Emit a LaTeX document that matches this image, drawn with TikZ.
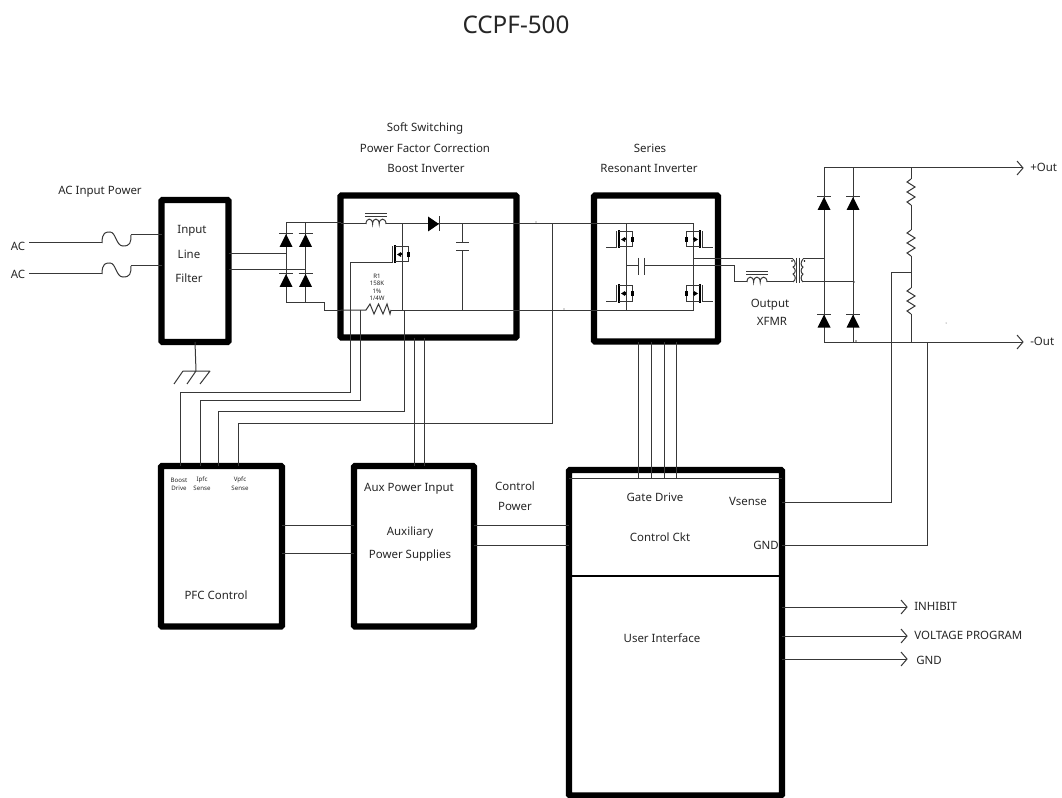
\documentclass[tikz,border=0pt]{standalone}
\usepackage{fontspec}
\setmainfont{Noto Sans}
\usetikzlibrary{fit}
\tikzset{
  wire/.style={line width=0.75pt,draw=black!78,line cap=butt,line join=miter},
  blockbox/.style={draw=black,line width=4.8pt,rounded corners=0.8pt,inner sep=0pt,outer sep=0pt,fill=none},
  lbl/.style={inner sep=0pt,font=\fontsize{8.6}{10}\selectfont,text=black!85},
  lblw/.style={lbl,anchor=west},
  tiny/.style={inner sep=0pt,font=\fontsize{4.6}{5}\selectfont,text=black!85},
  diodeup/.pic={\fill[black] (0,-6.5) -- (6.5,6.5) -- (-6.5,6.5) -- cycle;
                \draw[wire] (-7,-6.5) -- (7,-6.5);},
  coil/.pic={\draw[wire] (0,0) .. controls (0,-6.5) and (6.6,-6.5) .. (6.6,0)
             .. controls (6.6,-6.5) and (13.2,-6.5) .. (13.2,0)
             .. controls (13.2,-6.5) and (20,-6.5) .. (20,0);
             \draw[wire] (-1,-7.5) -- (21,-7.5) (-1,-10) -- (21,-10);},
  vres/.pic={\draw[wire] (0,0) -- (-4,3) -- (4,8) -- (-4,13) -- (4,18) -- (-4,23) -- (0,26);},
  fet/.pic={\draw[line width=1pt,black] (-7,-9) -- (-7,9);
            \draw[wire] (-9.5,-8) -- (-9.5,8) -- (-20,8);
            \draw[wire] (-7,-7.5) -- (6.5,-7.5) -- (6.5,7.5) -- (-7,7.5);
            \fill[black] (-5,0) -- (-1,-2.5) -- (-1,2.5) -- cycle;
            \fill[black] (-1,-1) rectangle (0,1);
            \fill[black] (5,-2.5) rectangle (8,2.5);},
  fuse/.pic={\draw[wire] (0,0) .. controls (0,-11) and (4,-11) .. (8,-11)
             .. controls (14,-11) and (14,3) .. (21,3)
             .. controls (28,3) and (29,0) .. (29,-8);},
  openhead/.pic={\draw[wire] (-6,-7) -- (0,0) -- (-6,7);},
}
\newcommand{\pxbox}[5]{\coordinate (#1-a) at (#2,#3);\coordinate (#1-b) at (#4,#5);
  \node[blockbox,fit=(#1-a)(#1-b)] (#1) {};}
\begin{document}
\begin{tikzpicture}[x=0.75pt,y=-0.75pt]
\useasboundingbox (0,0) rectangle (1062,798);
\fill[white] (0,0) rectangle (1062,798);

% Blocks
\pxbox{filter}{161.5}{200}{228.5}{342}
\pxbox{boost}{340.5}{195.5}{516.5}{337.5}
\pxbox{reso}{594}{195.5}{718}{341.5}
\pxbox{pfc}{161}{466}{282}{626.5}
\pxbox{aux}{354}{466}{474}{626.5}
\pxbox{ctrl}{569}{470}{782}{795.5}

% Free ends
\coordinate (ac1) at (29,243);
\coordinate (ac2) at (29,274);
\coordinate (pout) at (1023,168);
\coordinate (nout) at (1023,342);
\coordinate (arrA) at (907,607);
\coordinate (arrB) at (907,636);
\coordinate (arrC) at (907,659);

% AC inputs
\draw[wire] (ac1) -- (102,243);
\path (102,243) pic {fuse};
\draw[wire] (131,235) -- (filter.west |- 0,235);
\draw[wire] (ac2) -- (102,274);
\path (102,274) pic {fuse};
\draw[wire] (131,266) -- (filter.west |- 0,266);

% Ground
\coordinate (gnd) at (196,371);
\draw[wire] (filter.south) -- (gnd);
\draw[wire] (183,371) -- (210,371) (183,371) -- (174,384) (196,371) -- (187,384) (210,371) -- (200,384);

% Bridge
\draw[wire] (filter.east |- 0,254) -- (286,254);
\draw[wire] (filter.east |- 0,270) -- (305.5,270);
\draw[wire] (boost.west |- 0,223) -- (286,223) -- (286,302) -- (324.5,302) -- (324.5,310) -- (boost.west |- 0,310);
\draw[wire] (305.5,223) -- (305.5,302);
\path (286,240.5) pic {diodeup} (305.5,240.5) pic {diodeup} (286,280.5) pic {diodeup} (305.5,280.5) pic {diodeup};

% PFC stage
\draw[wire] (boost.west |- 0,224) -- (366,224);
\path (366,224) pic {coil};
\draw[wire] (386,224) -- (693,224) -- (693,310) -- (391,310);
\fill[black] (428,216.5) -- (439,224) -- (428,231.5) -- cycle;
\draw[line width=1pt,black!80] (439.5,216.5) -- (439.5,231.5);
\draw[wire] (boost.west |- 0,310) -- (366,310) -- (370,304) -- (374,314) -- (378.5,304) -- (383,314) -- (387,304) -- (390,314) -- (391,310);
\draw[wire] (402,224) -- (402,310);
\path (402,254.5) pic {fet};
\draw[wire] (382,263) -- (350,263) -- (350,392) -- (180,392) -- (pfc.north -| 180,0);
\draw[wire] (360,310) -- (360,400) -- (200,400) -- (pfc.north -| 200,0);
\draw[wire] (404,310) -- (404,411) -- (218,411) -- (pfc.north -| 218,0);
\draw[wire] (552,224) -- (552,423) -- (238,423) -- (pfc.north -| 238,0);
\draw[wire] (462,224) -- (462,243) (456,243) -- (469,243) (456,251) -- (469,251) (462,251) -- (462,310);

% Aux feeds
\draw[wire] (boost.south -| 414,0) -- (aux.north -| 414,0);
\draw[wire] (boost.south -| 424,0) -- (aux.north -| 424,0);

% Resonant inverter
\draw[wire] (626,224) -- (626,310);
\path (626,239.5) pic {fet} (626,293.5) pic {fet};
\path (693,239.5) pic[xscale=-1] {fet} (693,293.5) pic[xscale=-1] {fet};
\draw[wire] (626,266) -- (638,266) (638,258) -- (638,275) (644,258) -- (644,275);
\draw[wire] (644,266) -- (734,266) -- (734,282) -- (747,282);
\path (747,282) pic {coil};
\draw[wire] (767,282) -- (793,282);
\draw[wire] (693,259) -- (793,259);

% Transformer
\draw[wire] (793,259) .. controls (796,262) and (796,266) .. (793,267) .. controls (796,269) and (796,273) .. (793,274) .. controls (796,276) and (796,280) .. (793,282);
\draw[wire] (796.5,258) -- (796.5,283) (799.5,258) -- (799.5,283);
\draw[wire] (803,259) .. controls (800.5,262) and (800.5,266) .. (803,267) .. controls (800.5,269) and (800.5,273) .. (803,274) .. controls (800.5,276) and (800.5,280) .. (803,282);
\fill[black] (792,261) circle[radius=0.9] (804.5,261) circle[radius=0.9];
\draw[wire] (803,259) -- (824,259);
\draw[wire] (803,282) -- (853,282);

% Output rectifier
\draw[wire] (pout) -- (824,168) -- (824,342) -- (nout);
\draw[wire] (853,168) -- (853,342);
\path (824,203.5) pic {diodeup} (853,203.5) pic {diodeup} (824,321) pic {diodeup} (853,321) pic {diodeup};
\path (pout) pic {openhead} (nout) pic {openhead};

% Divider
\draw[wire] (911,168) -- (911,179);
\path (911,179) pic {vres};
\draw[wire] (911,205) -- (911,230);
\path (911,230) pic {vres};
\draw[wire] (911,256) -- (911,288);
\path (911,288) pic {vres};
\draw[wire] (911,314) -- (911,342);

% Control box
\draw[line width=2.2pt,black] (ctrl.west |- 0,576) -- (ctrl.east |- 0,576);
\draw[wire] (ctrl.west |- 0,478) -- (ctrl.east |- 0,478);
\foreach \xg in {638,651,664,676} {\draw[wire] (reso.south -| \xg,0) -- (\xg,478);}
\draw[wire] (ctrl.east |- 0,502) -- (891,502) -- (891,273) -- (911,273);
\draw[wire] (ctrl.east |- 0,545) -- (927,545) -- (927,342);
\draw[wire] (aux.east |- 0,525) -- (ctrl.west |- 0,525);
\draw[wire] (aux.east |- 0,545) -- (ctrl.west |- 0,545);
\draw[wire] (pfc.east |- 0,525) -- (aux.west |- 0,525);
\draw[wire] (pfc.east |- 0,553) -- (aux.west |- 0,553);
\draw[wire] (ctrl.east |- 0,607) -- (arrA);
\draw[wire] (ctrl.east |- 0,636) -- (arrB);
\draw[wire] (ctrl.east |- 0,659) -- (arrC);
\path (arrA) pic {openhead} (arrB) pic {openhead} (arrC) pic {openhead};

% Specks
\fill[black!70] (536,222) circle[radius=0.7] (564,309) circle[radius=0.7] (946,323) circle[radius=0.5] (856,341) circle[radius=0.8] (854,282) circle[radius=0.8];

% Text
\node[inner sep=0pt,font=\fontsize{18.2}{20}\selectfont,text=black!85] (title) at (516,25) {CCPF-500};
\node[lbl] (t1) at (100,192) {AC Input Power};
\node[lbl] (t2) at (18,246) {AC};
\node[lbl] (t3) at (18,274) {AC};
\node[lbl] (t4) at (192,231) {Input};
\node[lbl] (t5) at (189,254) {Line};
\node[lbl] (t6) at (189,278) {Filter};
\node[lbl] (t7) at (425,128) {Soft Switching};
\node[lbl] (t8) at (425,148) {Power Factor Correction};
\node[lbl] (t9) at (426,168) {Boost Inverter};
\node[lbl] (t10) at (650,148) {Series};
\node[lbl] (t11) at (649,168) {Resonant Inverter};
\node[lbl] (t12) at (770,305) {Output};
\node[lbl] (t13) at (772,321) {XFMR};
\node[lblw] (t14) at (1030,167) {+Out};
\node[lblw] (t15) at (1030,341) {-Out};
\node[tiny] (r1) at (377,276) {R1};
\node[tiny] (r2) at (377,283.5) {158K};
\node[tiny] (r3) at (377,291) {1\%};
\node[tiny] (r4) at (377,298) {1/4W};
\node[tiny] (b1) at (179,480) {Boost};
\node[tiny] (b2) at (179,488) {Drive};
\node[tiny] (b3) at (202,480) {Ipfc};
\node[tiny] (b4) at (202,488) {Sense};
\node[tiny] (b5) at (240,480) {Vpfc};
\node[tiny] (b6) at (240,488) {Sense};
\node[lbl] (t16) at (409,489) {Aux Power Input};
\node[lbl] (t17) at (410,533) {Auxiliary};
\node[lbl] (t18) at (410,556) {Power Supplies};
\node[lbl] (t19) at (216,595) {PFC Control};
\node[lbl] (t20) at (515,486) {Control};
\node[lbl] (t21) at (515,506) {Power};
\node[lbl] (t22) at (655,497) {Gate Drive};
\node[lbl] (t23) at (748,501) {Vsense};
\node[lbl] (t24) at (660,537) {Control Ckt};
\node[lbl] (t25) at (766,545) {GND};
\node[lbl] (t26) at (662,638) {User Interface};
\node[lblw] (t27) at (914,606) {INHIBIT};
\node[lblw] (t28) at (914,635) {VOLTAGE PROGRAM};
\node[lblw] (t29) at (916,660) {GND};
\end{tikzpicture}
\end{document}
